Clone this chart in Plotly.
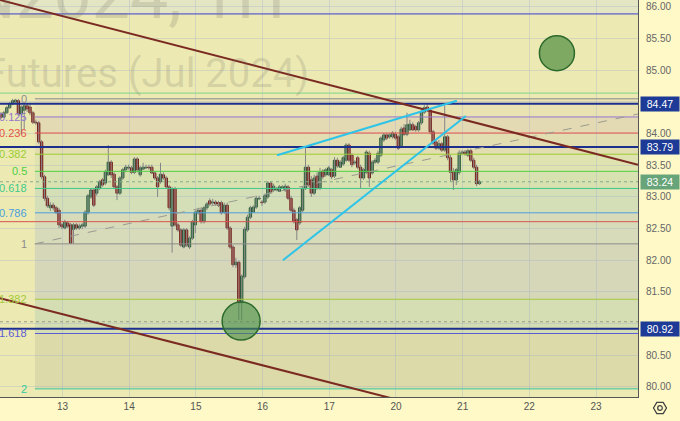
import plotly.graph_objects as go

# ---------------- data (1H candles) ----------------
opens = [
    84.31, 84.26, 84.33, 84.41, 84.47, 84.50, 84.52, 84.31, 84.37, 84.44,
    84.42, 84.33, 84.18, 84.17, 83.87, 83.32, 82.98, 82.83, 82.87, 82.83,
    82.79, 82.56, 82.51, 82.59, 82.56, 82.49, 82.56, 82.51, 82.54, 82.54,
    82.75, 83.00, 83.11, 83.06, 83.14, 83.27, 83.22, 83.35, 83.55, 83.36,
    83.16, 83.06, 83.30, 83.43, 83.46, 83.46, 83.39, 83.60, 83.35, 83.44,
    83.46, 83.47, 83.47, 83.38, 83.30, 83.24, 83.35, 83.30, 83.16, 82.54,
    83.13, 82.56, 82.48, 82.21, 82.48, 82.21, 82.35, 82.56, 82.75, 82.79,
    82.61, 82.83, 82.94, 82.91, 82.92, 82.91, 82.91, 82.76, 82.87, 82.51,
    82.21, 81.93, 81.97, 81.33, 81.74, 82.48, 82.68, 82.76, 82.84, 82.97,
    82.92, 82.92, 83.00, 83.22, 83.11, 83.11, 83.09, 83.14, 83.11, 83.16,
    82.98, 82.79, 82.64, 82.59, 82.79, 83.14, 83.47, 83.27, 83.06, 83.33,
    83.14, 83.41, 83.35, 83.35, 83.43, 83.33, 83.58, 83.47, 83.52, 83.58,
    83.82, 83.66, 83.54, 83.62, 83.47, 83.30, 83.39, 83.69, 83.38, 83.55,
    83.55, 83.66, 83.90, 83.98, 83.95, 83.95, 83.99, 83.95, 83.81, 84.09,
    83.99, 84.06, 84.14, 84.11, 84.06, 84.17, 84.34, 84.42, 84.37, 84.03,
    83.87, 83.77, 83.84, 83.74, 83.95, 83.62, 83.39, 83.27, 83.39, 83.69,
    83.71, 83.66, 83.73, 83.58, 83.47, 83.21,
]
highs = [
    84.34, 84.36, 84.44, 84.50, 84.55, 84.55, 84.55, 84.45, 84.47, 84.47,
    84.47, 84.36, 84.22, 84.20, 83.90, 83.35, 83.02, 82.92, 82.91, 82.86,
    82.83, 82.59, 82.64, 82.62, 82.59, 82.59, 82.59, 82.58, 82.59, 82.79,
    83.05, 83.14, 83.14, 83.19, 83.27, 83.30, 83.43, 83.82, 83.58, 83.39,
    83.19, 83.33, 83.46, 83.51, 83.51, 83.49, 83.63, 83.63, 83.49, 83.54,
    83.51, 83.51, 83.51, 83.41, 83.33, 83.54, 83.39, 83.33, 83.19, 83.16,
    83.16, 82.59, 82.51, 82.51, 82.51, 82.38, 82.64, 82.79, 82.83, 82.83,
    82.86, 82.92, 82.98, 82.97, 82.95, 82.94, 82.94, 82.91, 82.91, 82.54,
    82.24, 82.04, 82.00, 81.78, 82.53, 82.72, 82.86, 82.87, 83.02, 83.02,
    82.95, 83.05, 83.25, 83.25, 83.21, 83.16, 83.19, 83.19, 83.21, 83.19,
    83.02, 82.83, 82.67, 82.86, 83.17, 83.79, 83.51, 83.33, 83.35, 83.39,
    83.46, 83.44, 83.46, 83.49, 83.46, 83.63, 83.62, 83.58, 83.65, 83.85,
    83.85, 83.69, 83.58, 83.65, 83.51, 83.46, 83.74, 83.73, 83.58, 83.62,
    83.73, 83.96, 84.01, 84.01, 84.01, 84.04, 84.03, 83.98, 84.11, 84.15,
    84.33, 84.22, 84.18, 84.14, 84.20, 84.37, 84.45, 84.47, 84.41, 84.06,
    83.90, 83.90, 83.87, 84.45, 83.98, 83.66, 83.46, 83.46, 83.74, 83.74,
    83.74, 83.76, 83.76, 83.62, 83.51, 83.27,
]
lows = [
    84.23, 84.25, 84.31, 84.39, 84.45, 84.48, 84.28, 83.99, 84.06, 84.34,
    84.29, 84.15, 84.14, 83.84, 83.28, 82.94, 82.83, 82.78, 82.79, 82.73,
    82.51, 82.49, 82.49, 82.51, 82.26, 82.26, 82.48, 82.48, 82.49, 82.51,
    82.72, 82.97, 82.84, 83.02, 83.11, 83.16, 83.19, 83.33, 83.30, 83.13,
    82.95, 83.03, 83.27, 83.39, 83.43, 83.36, 83.36, 83.39, 83.32, 83.43,
    83.44, 83.43, 83.36, 83.27, 83.00, 83.21, 83.27, 83.13, 82.79, 82.12,
    82.53, 82.45, 82.21, 82.19, 82.21, 82.18, 82.32, 82.43, 82.72, 82.58,
    82.58, 82.79, 82.86, 82.87, 82.86, 82.84, 82.72, 82.73, 82.48, 82.18,
    81.89, 81.88, 81.06, 81.06, 81.71, 82.45, 82.65, 82.75, 82.81, 82.95,
    82.86, 82.89, 82.97, 83.05, 83.08, 83.09, 83.08, 83.13, 83.08, 82.95,
    82.76, 82.58, 82.32, 82.56, 82.76, 83.11, 83.16, 83.00, 83.03, 83.11,
    83.11, 83.28, 83.32, 83.33, 83.28, 83.30, 83.46, 83.46, 83.49, 83.55,
    83.55, 83.47, 83.51, 83.44, 83.14, 83.27, 83.36, 83.16, 83.35, 83.52,
    83.52, 83.63, 83.87, 83.90, 83.92, 83.92, 83.90, 83.74, 83.77, 83.96,
    83.96, 84.04, 84.04, 84.03, 84.03, 84.14, 84.31, 84.34, 83.99, 83.82,
    83.74, 83.74, 83.71, 83.71, 83.58, 83.24, 83.11, 83.19, 83.35, 83.66,
    83.65, 83.63, 83.55, 83.44, 83.17, 83.19,
]
closes = [
    84.26, 84.33, 84.41, 84.47, 84.52, 84.53, 84.31, 84.42, 84.44, 84.39,
    84.33, 84.18, 84.17, 83.87, 83.32, 82.98, 82.86, 82.87, 82.83, 82.76,
    82.56, 82.53, 82.61, 82.54, 82.27, 82.56, 82.51, 82.54, 82.56, 82.76,
    83.02, 83.11, 82.87, 83.16, 83.24, 83.19, 83.39, 83.55, 83.35, 83.16,
    83.06, 83.30, 83.43, 83.47, 83.47, 83.39, 83.60, 83.43, 83.46, 83.47,
    83.47, 83.46, 83.38, 83.30, 83.16, 83.36, 83.30, 83.16, 82.83, 83.13,
    82.56, 82.48, 82.24, 82.48, 82.24, 82.35, 82.61, 82.76, 82.79, 82.61,
    82.83, 82.89, 82.89, 82.92, 82.89, 82.87, 82.75, 82.87, 82.51, 82.21,
    81.93, 81.97, 81.33, 81.75, 82.49, 82.68, 82.83, 82.84, 82.98, 82.98,
    82.91, 83.02, 83.22, 83.08, 83.17, 83.13, 83.16, 83.16, 83.17, 82.98,
    82.79, 82.61, 82.48, 82.83, 83.14, 83.47, 83.19, 83.06, 83.30, 83.14,
    83.39, 83.32, 83.43, 83.46, 83.32, 83.58, 83.49, 83.55, 83.62, 83.82,
    83.58, 83.51, 83.55, 83.47, 83.30, 83.43, 83.71, 83.30, 83.55, 83.58,
    83.69, 83.93, 83.98, 83.93, 83.98, 84.01, 83.93, 83.77, 84.07, 83.99,
    84.14, 84.15, 84.06, 84.06, 84.17, 84.34, 84.41, 84.37, 84.03, 83.85,
    83.77, 83.84, 83.74, 83.95, 83.62, 83.39, 83.27, 83.43, 83.69, 83.71,
    83.68, 83.73, 83.58, 83.47, 83.21, 83.24,
]
assert len(opens) == len(highs) == len(lows) == len(closes)

day_labels = ["13", "14", "15", "16", "17", "20", "21", "22", "23"]
first_day_bar = 21.2
bars_per_day = 23

price_ticks = [80.0, 80.5, 81.0, 81.5, 82.0, 82.5, 83.0, 83.5, 84.0, 84.5, 85.0, 85.5, 86.0]
hidden_ticks = [81.0, 84.5]

fib_high = 84.55
fib_low = 82.26
fib_levels = [0, 0.125, 0.236, 0.382, 0.5, 0.618, 0.786, 1, 1.382, 1.618, 2]
fib_labels = ["0", "0.125", "0.236", "0.382", "0.5", "0.618", "0.786", "1", "1.382", "1.618", "2"]
fib_colors = ["#8c8c8c", "#9575cd", "#e5534b", "#9acd32", "#4ccf45", "#3ec98a",
              "#4a9fdf", "#8c8c8c", "#a3c93a", "#5c5cd6", "#35c9a0"]
band_colors = ["#e9e2b3", "#e3dab3", "#e3deb1", "#dfe3b0", "#d8e2b1",
               "#d4dfb7", "#d7dbb9", "#d6d7b9", "#d4deb2", "#dcdaa8"]
fib_start_bar = 11.7

navy_levels = [84.47, 83.79, 80.92]
blue_level = 85.89
green_level = 84.64
red_level = 82.61
low_marker = 81.03
last_price = 83.24

upper_channel = [(-0.345, 86.11), (219.66, 83.51)]
lower_channel = [(-0.345, 81.40), (140.0, 79.76)]
wedge_upper = [(95.2, 83.66), (157.2, 84.52)]
wedge_lower = [(97.2, 82.00), (160.3, 84.28)]
fib_trend = [(11.7, 82.26), (219.66, 84.31)]
circles = [(191.7, 85.27, 35), (82.8, 81.04, 38)]

watermark_symbol = "CLN2024, 1H"
watermark_desc = "Light Crude Oil Futures (Jul 2024)"

x_range = [-0.345, 219.66]
y_range = [79.842, 86.11]

# ---------------- figure ----------------
idx = list(range(len(closes)))
fig = go.Figure()

# wicks
wx, wy = [], []
for i in idx:
    wx += [i, i, None]
    wy += [lows[i], highs[i], None]
fig.add_trace(go.Scatter(x=wx, y=wy, mode="lines", line=dict(color="#858585", width=1),
                         hoverinfo="skip", showlegend=False))

# bodies
up_fill, dn_fill = "#4a955f", "#c0392b"
up_edge, dn_edge = "#265433", "#661b16"
fill = [up_fill if c >= o else dn_fill for o, c in zip(opens, closes)]
edge = [up_edge if c >= o else dn_edge for o, c in zip(opens, closes)]
fig.add_trace(go.Bar(x=idx, y=[c - o for o, c in zip(opens, closes)], base=opens,
                     width=0.82, marker=dict(color=fill, line=dict(color=edge, width=0.9)),
                     hoverinfo="skip", showlegend=False))

shapes = []
# top strip
shapes.append(dict(type="rect", xref="paper", yref="y", x0=0, x1=1, y0=blue_level, y1=y_range[1],
                   fillcolor="#e4e6c3", line=dict(width=0), layer="below"))
# fib bands
fib_prices = [fib_high - lv * (fib_high - fib_low) for lv in fib_levels]
for k in range(len(fib_levels) - 1):
    shapes.append(dict(type="rect", xref="x", yref="y", x0=fib_start_bar, x1=x_range[1],
                       y0=fib_prices[k], y1=fib_prices[k + 1], fillcolor=band_colors[k],
                       line=dict(width=0), layer="below"))
# fib lines
for p, c in zip(fib_prices, fib_colors):
    shapes.append(dict(type="line", xref="x", yref="y", x0=fib_start_bar, x1=x_range[1], y0=p, y1=p,
                       line=dict(color=c, width=1), layer="above"))


def hline(p, color, width=1, dash="solid"):
    shapes.append(dict(type="line", xref="paper", yref="y", x0=0, x1=1, y0=p, y1=p,
                       line=dict(color=color, width=width, dash=dash), layer="above"))


hline(blue_level, "#3b3fd0", 1)
hline(green_level, "#7fd58c", 1)
hline(red_level, "#d9544c", 1)
hline(low_marker, "#9a9a8a", 1, "dot")
hline(last_price, "#7fae8e", 1, "dot")
for p in navy_levels:
    hline(p, "#1c2f8c", 2)


def seg(pts, color, width, dash="solid"):
    (x0, y0), (x1, y1) = pts
    shapes.append(dict(type="line", xref="x", yref="y", x0=x0, y0=y0, x1=x1, y1=y1,
                       line=dict(color=color, width=width, dash=dash), layer="above"))


seg(fib_trend, "#9a9a90", 1, "dash")
seg(upper_channel, "#7b2a22", 2)
seg(lower_channel, "#7b2a22", 2)
seg(wedge_upper, "#2ec4e8", 2)
seg(wedge_lower, "#2ec4e8", 2)

# circles
circ_fill = ["rgba(120,165,95,0.95)", "rgba(70,140,70,0.6)"]
for (cx, cy, d), fc in zip(circles, circ_fill):
    shapes.append(dict(type="circle", xref="x", yref="y", xsizemode="pixel", ysizemode="pixel",
                       xanchor=cx, yanchor=cy, x0=-d / 2, x1=d / 2, y0=-d / 2, y1=d / 2,
                       fillcolor=fc, line=dict(color="#2c6a2c", width=1.5), layer="above"))

# settings icon
shapes.append(dict(type="path", xref="paper", yref="paper", xsizemode="pixel", ysizemode="pixel",
                   xanchor=660 / 638, yanchor=-11 / 397,
                   path="M -6.5 0 L -3.2 -5.6 L 3.2 -5.6 L 6.5 0 L 3.2 5.6 L -3.2 5.6 Z",
                   line=dict(color="#444", width=1.3)))
shapes.append(dict(type="circle", xref="paper", yref="paper", xsizemode="pixel", ysizemode="pixel",
                   xanchor=660 / 638, yanchor=-11 / 397, x0=-2.3, x1=2.3, y0=-2.3, y1=2.3,
                   line=dict(color="#444", width=1.3)))

annotations = []
wm_color = "rgba(110,110,95,0.2)"
annotations.append(dict(text=watermark_symbol, xref="paper", yref="paper", x=287 / 638, y=(397 + 5) / 397,
                        xanchor="right", yanchor="middle", showarrow=False,
                        font=dict(family="Roboto", size=68, color=wm_color)))
annotations.append(dict(text=watermark_desc, xref="paper", yref="paper",
                        x=311 / 638, y=(397 - 73) / 397, xanchor="right", yanchor="middle",
                        showarrow=False, font=dict(family="Roboto", size=40, color=wm_color)))
# fib labels
for lab, p, c in zip(fib_labels, fib_prices, fib_colors):
    annotations.append(dict(text=lab, xref="paper", yref="y", x=29 / 638, y=p, xanchor="right",
                            yanchor="middle", showarrow=False,
                            font=dict(family="Liberation Sans", size=11, color=c)))
# price labels
for p in navy_levels:
    annotations.append(dict(text=f"{p:.2f}", xref="paper", yref="y", x=1, y=p, xanchor="left",
                            yanchor="middle", xshift=2, showarrow=False, bgcolor="#1c3a96",
                            borderpad=1, width=36,
                            font=dict(family="Liberation Sans", size=10.5, color="white")))
annotations.append(dict(text=f"{last_price:.2f}", xref="paper", yref="y", x=1, y=last_price,
                        xanchor="left", yanchor="middle", xshift=2, showarrow=False,
                        bgcolor="#68a47a", borderpad=1, width=36,
                        font=dict(family="Liberation Sans", size=10.5, color="white")))

tickvals_x = [first_day_bar + k * bars_per_day for k in range(len(day_labels))]
ticktext_y = ["" if v in hidden_ticks else f"{v:.2f}" for v in price_ticks]

grid = "rgba(150,165,205,0.28)"
fig.update_layout(
    width=680, height=421,
    margin=dict(l=0, r=42, t=0, b=24, autoexpand=False),
    paper_bgcolor="#fef9c6",
    plot_bgcolor="#ece9b3",
    barmode="overlay",
    showlegend=False,
    shapes=shapes,
    annotations=annotations,
    xaxis=dict(range=x_range, tickvals=tickvals_x, ticktext=day_labels, showgrid=True,
               gridcolor=grid, gridwidth=1, zeroline=False, showline=True, linecolor="#555",
               linewidth=1, ticks="", tickfont=dict(family="Liberation Sans", size=10, color="#555"),
               fixedrange=True),
    yaxis=dict(range=y_range, side="right", tickvals=price_ticks, ticktext=ticktext_y,
               showgrid=True, gridcolor=grid, gridwidth=1, zeroline=False, showline=True,
               linecolor="#555", linewidth=1, ticks="", ticklabelstandoff=5,
               tickfont=dict(family="Liberation Sans", size=10, color="#666"), fixedrange=True),
)

fig.write_html("out.html", config={"displayModeBar": False},
               post_script="document.body.style.margin='0';document.body.style.overflow='hidden';")
